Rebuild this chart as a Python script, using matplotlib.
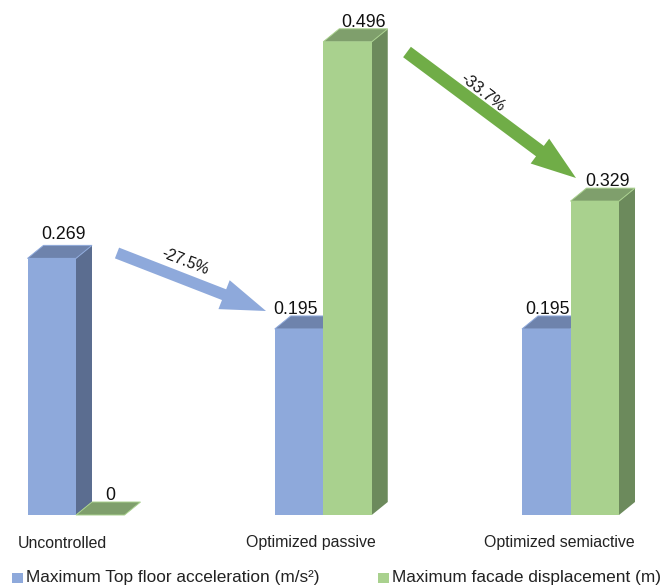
import matplotlib
matplotlib.use('Agg')
import matplotlib.pyplot as plt
from matplotlib.patches import FancyArrow, Polygon, Rectangle
from matplotlib.transforms import Affine2D

categories = ['Uncontrolled', 'Optimized passive', 'Optimized semiactive']
acceleration = [0.269, 0.195, 0.195]
displacement = [0, 0.496, 0.329]
acc_text = ['0.269', '0.195', '0.195']
disp_text = ['0', '0.496', '0.329']
reductions = ['-27.5%', '-33.7%']
legend_labels = ['Maximum Top floor acceleration (m/s\u00b2)', 'Maximum facade displacement (m)']

plt.rcParams['font.family'] = ['Liberation Sans', 'DejaVu Sans']

W, H = 662, 586
BLUE = ('#8EA9DB', '#6E83AC', '#5B6D90')
GREEN = ('#A9D18E', '#7F9F6C', '#6C8A5C')

fig = plt.figure(figsize=(W / 100, H / 100), dpi=100)
ax = fig.add_axes([0, 0, 1, 1])
ax.axis('off')

# Scales: groups are 247.25 px apart, one unit of value is 954 px, baseline at y=515.
PX_X = 247.25
PX_Y = 954
ax.set_xlim(-76 / PX_X, (W - 76) / PX_X)
ax.set_ylim(-(H - 515) / PX_Y, 515 / PX_Y)
BAR_W = 48.5 / PX_X
DX = 16 / PX_X
DY = 13 / PX_Y

# Overlay coordinates measured from the top left corner, in pixels.
px = Affine2D().scale(1, -1).translate(0, H) + Affine2D().scale(fig.dpi / 100)


def bar3d(left, value, colors, z):
    front, top, side = colors
    right = left + BAR_W
    # Side and top first, so the front of the next box covers them.
    if value > 0:
        ax.add_patch(Polygon([(right, 0), (right + DX, DY), (right + DX, value + DY), (right, value)],
                             fc=side, ec='none', zorder=z))
    ax.add_patch(Polygon([(left, value), (left + DX, value + DY), (right + DX, value + DY), (right, value)],
                         fc=top, ec=front, lw=0.7, zorder=z))
    if value > 0:
        ax.add_patch(Rectangle((left, 0), BAR_W, value, fc=front, ec='none', zorder=z + 0.5))


for i in range(len(categories)):
    bar3d(i - BAR_W, acceleration[i], BLUE, 1)
    bar3d(i, displacement[i], GREEN, 2)

# Value labels sit just above each box, nudged in pixels.
acc_offsets = [(12, 11), (-3, 6), (1, 6)]
disp_offsets = [(10, 6), (16, 6), (13, 7)]
for i in range(len(categories)):
    ax.annotate(acc_text[i], (i - BAR_W / 2, acceleration[i] + DY), xytext=acc_offsets[i],
                textcoords='offset pixels', ha='center', va='center', fontsize=12.8, color='#111111', zorder=5)
    ax.annotate(disp_text[i], (i + BAR_W / 2, displacement[i] + DY), xytext=disp_offsets[i],
                textcoords='offset pixels', ha='center', va='center', fontsize=12.8, color='#111111', zorder=5)

# Category names.
cat_x = [62.5, 311, 559]
for x, name in zip(cat_x, categories):
    ax.text(x, 543, name, transform=px, ha='center', va='center', fontsize=11.4, color='#222222')

# Reduction arrows between the groups.
ax.add_patch(FancyArrow(117, 253, 149, 58, width=11.5, head_width=31, head_length=45,
                        length_includes_head=True, fc=BLUE[0], ec='none', transform=px, zorder=4))
ax.add_patch(FancyArrow(407, 52, 169, 126, width=13, head_width=31, head_length=45,
                        length_includes_head=True, fc='#70AD47', ec='none', transform=px, zorder=4))
ax.text(185, 262, reductions[0], transform=px, rotation=-21, rotation_mode='anchor',
        ha='center', va='center', fontsize=11.3, color='#111111', zorder=5)
ax.text(483, 92, reductions[1], transform=px, rotation=-38, rotation_mode='anchor',
        ha='center', va='center', fontsize=11.8, color='#111111', zorder=5)

# Legend along the bottom edge.
ax.add_patch(Rectangle((12, 573), 11, 10, fc=BLUE[0], ec='none', transform=px))
ax.add_patch(Rectangle((378, 573), 11, 10, fc=GREEN[0], ec='none', transform=px))
ax.text(26, 582, legend_labels[0], transform=px, ha='left', va='baseline', fontsize=12.4, color='#222222')
ax.text(392, 582, legend_labels[1], transform=px, ha='left', va='baseline', fontsize=12.4, color='#222222')

fig.savefig('out.png', dpi=100)
